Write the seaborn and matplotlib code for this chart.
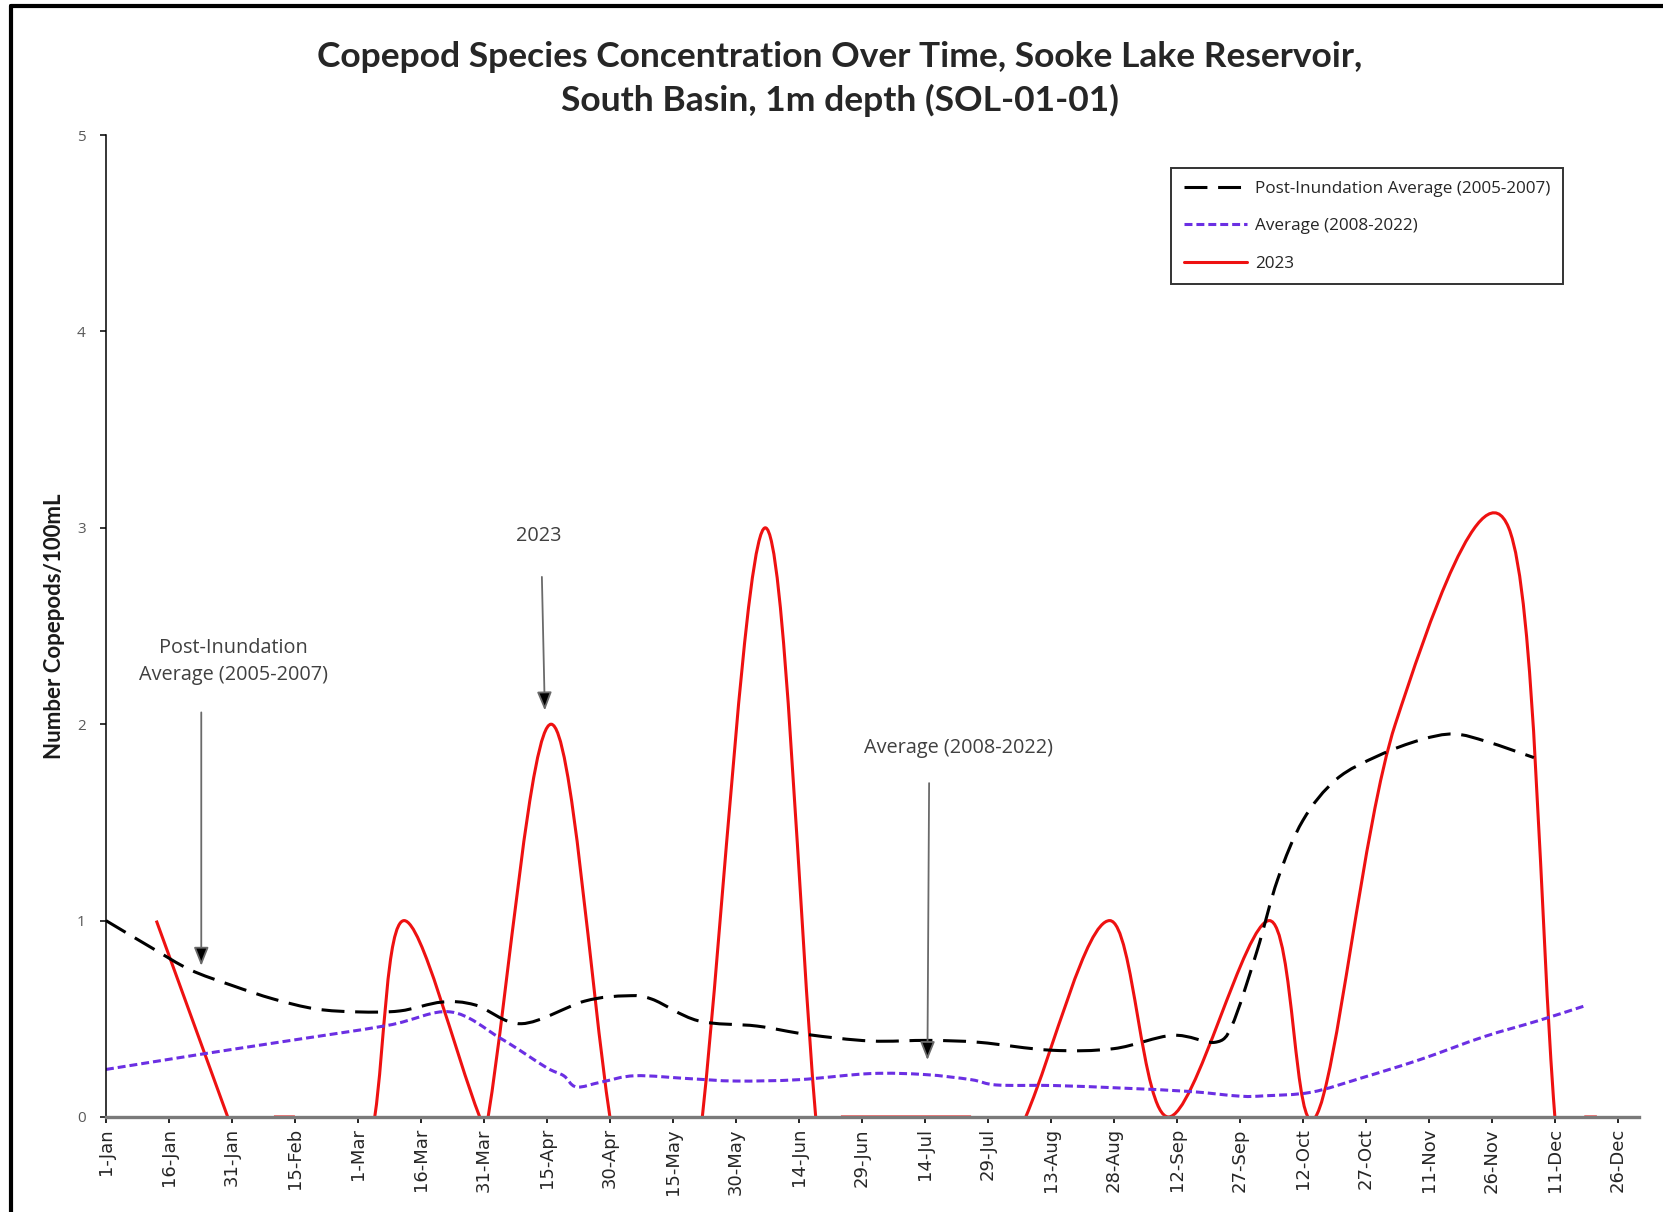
import numpy as np
import pandas as pd
import matplotlib
matplotlib.use("Agg")
import matplotlib.pyplot as plt
import seaborn as sns
from matplotlib.path import Path
from matplotlib.patches import PathPatch
from matplotlib.lines import Line2D

# values; the axis runs on a leap-year calendar (1-Mar is day 60)
post_dates = ["1-Jan", "12-Jan", "21-Jan", "31-Jan", "10-Feb", "20-Feb", "1-Mar", "11-Mar",
              "21-Mar", "29-Mar", "9-Apr", "24-Apr", "4-May", "10-May", "21-May", "4-Jun",
              "16-Jun", "1-Jul", "15-Jul", "27-Jul", "13-Aug", "28-Aug", "11-Sep", "21-Sep",
              "25-Sep", "1-Oct", "6-Oct", "12-Oct", "20-Oct", "30-Oct", "9-Nov", "17-Nov",
              "25-Nov", "6-Dec"]
post_values = [1.00, 0.86, 0.75, 0.67, 0.60, 0.55, 0.535, 0.54,
               0.585, 0.57, 0.475, 0.59, 0.617, 0.60, 0.49, 0.463,
               0.42, 0.387, 0.39, 0.38, 0.34, 0.348, 0.416, 0.38,
               0.46, 0.84, 1.21, 1.51, 1.72, 1.84, 1.92, 1.95,
               1.91, 1.83]

avg_dates = ["1-Jan", "22-Jan", "11-Feb", "8-Mar", "23-Mar", "4-Apr", "15-Apr", "19-Apr",
             "22-Apr", "28-Apr", "6-May", "19-May", "30-May", "14-Jun", "1-Jul", "14-Jul",
             "25-Jul", "31-Jul", "14-Aug", "30-Aug", "15-Sep", "27-Sep", "3-Oct", "14-Oct",
             "26-Oct", "9-Nov", "24-Nov", "7-Dec", "18-Dec"]
avg_values = [0.242, 0.314, 0.38, 0.466, 0.535, 0.40, 0.25, 0.21,
              0.153, 0.178, 0.21, 0.195, 0.183, 0.19, 0.221, 0.216,
              0.19, 0.163, 0.16, 0.147, 0.13, 0.106, 0.108, 0.126,
              0.199, 0.293, 0.408, 0.49, 0.565]

# 2023 samples; NaN marks a break in the plotted line
y2023_dates = ["13-Jan", "30-Jan", "5-Feb", "10-Feb", "15-Feb", "25-Feb", "5-Mar", "12-Mar",
               "30-Mar", "31-Mar", "1-Apr", "16-Apr", "30-Apr", "10-May", "22-May", "6-Jun",
               "18-Jun", "21-Jun", "24-Jun", "9-Jul", "25-Jul", "1-Aug", "7-Aug", "27-Aug",
               "10-Sep", "4-Oct", "15-Oct", "3-Nov", "30-Nov", "11-Dec", "15-Dec", "18-Dec",
               "21-Dec"]
y2023_values = [1.0, 0.0, np.nan, 0.0, 0.0, np.nan, 0.0, 1.0,
                0.0, np.nan, 0.0, 2.0, 0.0, np.nan, 0.0, 3.0,
                0.0, np.nan, 0.0, 0.0, 0.0, np.nan, 0.0, 1.0,
                0.0, 1.0, 0.0, 2.0, 3.0, 0.0, np.nan, 0.0,
                0.0]

tick_labels = ["1-Jan", "16-Jan", "31-Jan", "15-Feb", "1-Mar", "16-Mar", "31-Mar", "15-Apr",
               "30-Apr", "15-May", "30-May", "14-Jun", "29-Jun", "14-Jul", "29-Jul", "13-Aug",
               "28-Aug", "12-Sep", "27-Sep", "12-Oct", "27-Oct", "11-Nov", "26-Nov", "11-Dec",
               "26-Dec"]


def day_of_year(labels):
    d = pd.to_datetime([s + "-2024" for s in labels], format="%d-%b-%Y")
    return np.asarray(d.dayofyear - 1, dtype=float)


def smooth_path(ax, xs, ys):
    # Excel-style smoothed line: cubic Bezier through the points
    pts = ax.transData.transform(np.column_stack([xs, ys]))
    n = len(pts)
    verts = [pts[0]]
    codes = [Path.MOVETO]
    for i in range(n - 1):
        p1, p2 = pts[i], pts[i + 1]
        seg = np.hypot(*(p2 - p1))
        if i == 0:
            v1 = (p2 - p1) / 3
        else:
            v1 = (p2 - pts[i - 1]) / 6
        if i + 2 < n:
            v2 = (pts[i + 2] - p1) / 6
        else:
            v2 = (p2 - p1) / 3
        for v in (v1, v2):
            ln = np.hypot(*v)
            if ln > seg / 2:
                v *= seg / 2 / ln
        verts += [p1 + v1, p2 - v2, p2]
        codes += [Path.CURVE4] * 3
    verts = ax.transData.inverted().transform(np.array(verts))
    return Path(verts, codes)


sns.set_style("white")
plt.rcParams["font.family"] = ["DejaVu Sans"]

fig = plt.figure(figsize=(16.63, 12.12), dpi=100)
ax = fig.add_axes([0.0637, 0.0784, 0.9218, 0.8102])
ax.set_xlim(0, 365)
ax.set_ylim(0, 5)

black_style = dict(color="black", lw=2.2, ls=(0, (7.5, 3.5)))
purple_style = dict(color="#6b2fe3", lw=2.2, ls=(0, (2.6, 1.3)))
red_style = dict(color="#ee1111", lw=2.2, ls="-")

# 2023 first so the averages sit on top where they cross
x23 = day_of_year(y2023_dates)
v23 = np.array(y2023_values)
breaks = np.where(np.isnan(v23))[0]
for chunk_x, chunk_v in zip(np.split(x23, breaks), np.split(v23, breaks)):
    keep = ~np.isnan(chunk_v)
    if keep.sum() < 2:
        continue
    ax.add_patch(PathPatch(smooth_path(ax, chunk_x[keep], chunk_v[keep]), fill=False,
                           edgecolor=red_style["color"], lw=red_style["lw"],
                           ls=red_style["ls"], capstyle="butt", joinstyle="round"))

ax.add_patch(PathPatch(smooth_path(ax, day_of_year(avg_dates), avg_values), fill=False,
                       edgecolor=purple_style["color"], lw=purple_style["lw"],
                       ls=purple_style["ls"], capstyle="butt"))
ax.add_patch(PathPatch(smooth_path(ax, day_of_year(post_dates), post_values), fill=False,
                       edgecolor=black_style["color"], lw=black_style["lw"],
                       ls=black_style["ls"], capstyle="butt"))

# axes
sns.despine(ax=ax)
ax.spines["left"].set_color("black")
ax.spines["left"].set_linewidth(1.1)
ax.spines["bottom"].set_color("#7a7a7a")
ax.spines["bottom"].set_linewidth(2.4)
ax.set_xticks(np.arange(0, 361, 15))
ax.set_xticklabels(tick_labels, rotation=90, fontsize=13, color="#262626")
ax.set_yticks(range(6))
ax.set_yticklabels([str(i) for i in range(6)], fontsize=11, color="#595959",
                   fontfamily="Open Sans")
ax.tick_params(axis="x", direction="out", length=4, width=1.2, color="black", pad=4,
               bottom=True)
ax.tick_params(axis="y", direction="out", length=4.5, width=1.1, color="black", pad=10,
               left=True)
ax.grid(False)
ax.set_ylabel("Number Copepods/100mL", fontsize=16, fontweight="bold",
              fontfamily="Lato", color="#1a1a1a")
ax.yaxis.set_label_coords(-0.027, 0.5)

# arrows and labels
note_font = dict(fontsize=14.3, color="#404040", fontfamily="Open Sans",
                 ha="center", va="center")
arrow = dict(arrowstyle="-|>,head_length=0.75,head_width=0.3", facecolor="black",
             edgecolor="#6a6a6a", lw=1.3, shrinkA=0, shrinkB=0, mutation_scale=15)
ax.text(30.4, 2.32, "Post-Inundation\nAverage (2005-2007)", linespacing=1.5, **note_font)
ax.annotate("", xy=(22.7, 0.77), xytext=(22.7, 2.06), arrowprops=arrow)
ax.text(103.1, 2.96, "2023", **note_font)
ax.annotate("", xy=(104.5, 2.07), xytext=(103.8, 2.75), arrowprops=arrow)
ax.text(202.9, 1.88, "Average (2008-2022)", **note_font)
ax.annotate("", xy=(195.6, 0.29), xytext=(196.0, 1.70), arrowprops=arrow)

# legend
handles = [Line2D([], [], **black_style), Line2D([], [], **purple_style),
           Line2D([], [], **red_style)]
labels = ["Post-Inundation Average (2005-2007)", "Average (2008-2022)", "2023"]
leg = ax.legend(handles, labels, loc="upper right", bbox_to_anchor=(0.9504, 0.9664),
                borderaxespad=0, frameon=True, fancybox=False, edgecolor="black",
                handlelength=3.7, handletextpad=0.45, labelspacing=1.25, borderpad=0.75,
                prop={"family": "Open Sans", "size": 12.3})
leg.get_frame().set_linewidth(1.4)
for t in leg.get_texts():
    t.set_color("#262626")

# title
fig.text(0.505, 0.935, "Copepod Species Concentration Over Time, Sooke Lake Reservoir,\n"
         "South Basin, 1m depth (SOL-01-01)", ha="center", va="center",
         fontsize=25.5, fontweight="bold", fontfamily="Lato", linespacing=1.42)

# outer frame of the original chart image (top and left edges visible)
fig.add_artist(Line2D([0.0066, 1.0], [0.995, 0.995], transform=fig.transFigure,
                      color="black", lw=3))
fig.add_artist(Line2D([0.0066, 0.0066], [0.0, 0.995], transform=fig.transFigure,
                      color="black", lw=3))

fig.savefig("out.png", dpi=100)
